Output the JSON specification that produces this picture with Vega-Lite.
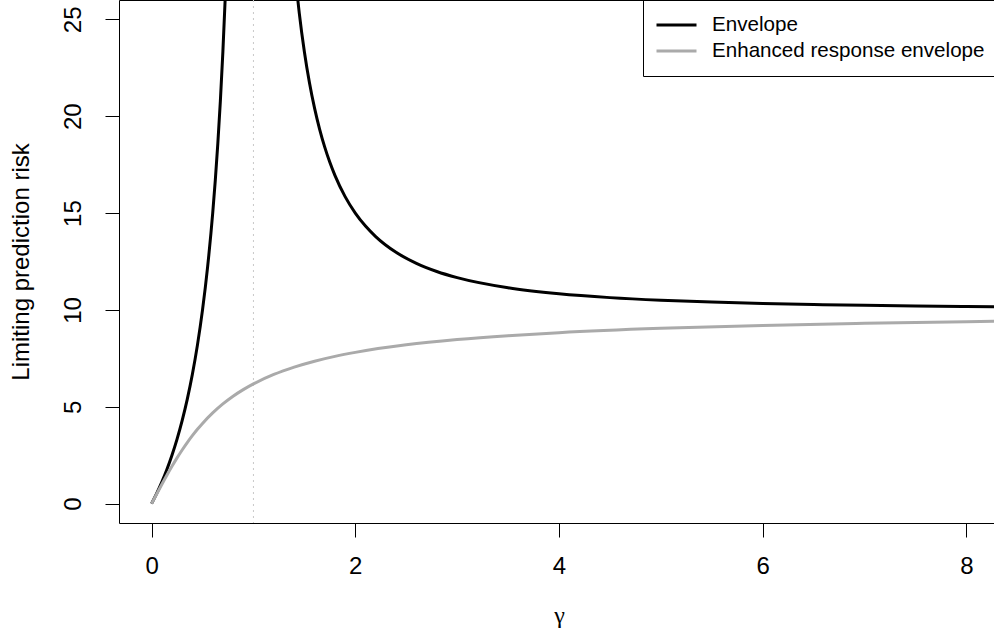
{
  "$schema": "https://vega.github.io/schema/vega-lite/v6.json",
  "width": 875,
  "height": 523,
  "autosize": {"type": "none"},
  "padding": {"left": 119, "top": 0, "right": 0, "bottom": 113},
  "background": "white",
  "config": {"view": {"stroke": null}, "font": "Liberation Sans"},
  "datasets": {
    "curves": [
      {"series": "Envelope", "branch": "L", "gamma": 0, "risk": 0},
      {"series": "Envelope", "branch": "L", "gamma": 0.05, "risk": 0.526},
      {"series": "Envelope", "branch": "L", "gamma": 0.1, "risk": 1.111},
      {"series": "Envelope", "branch": "L", "gamma": 0.15, "risk": 1.765},
      {"series": "Envelope", "branch": "L", "gamma": 0.2, "risk": 2.5},
      {"series": "Envelope", "branch": "L", "gamma": 0.25, "risk": 3.333},
      {"series": "Envelope", "branch": "L", "gamma": 0.3, "risk": 4.286},
      {"series": "Envelope", "branch": "L", "gamma": 0.35, "risk": 5.385},
      {"series": "Envelope", "branch": "L", "gamma": 0.4, "risk": 6.667},
      {"series": "Envelope", "branch": "L", "gamma": 0.45, "risk": 8.182},
      {"series": "Envelope", "branch": "L", "gamma": 0.5, "risk": 10.0},
      {"series": "Envelope", "branch": "L", "gamma": 0.55, "risk": 12.222},
      {"series": "Envelope", "branch": "L", "gamma": 0.6, "risk": 15.0},
      {"series": "Envelope", "branch": "L", "gamma": 0.625, "risk": 16.667},
      {"series": "Envelope", "branch": "L", "gamma": 0.65, "risk": 18.571},
      {"series": "Envelope", "branch": "L", "gamma": 0.675, "risk": 20.769},
      {"series": "Envelope", "branch": "L", "gamma": 0.7, "risk": 23.333},
      {"series": "Envelope", "branch": "L", "gamma": 0.725, "risk": 26.364},
      {"series": "Envelope", "branch": "L", "gamma": 0.75, "risk": 30.0},
      {"series": "Envelope", "branch": "R", "gamma": 1.4, "risk": 27.857},
      {"series": "Envelope", "branch": "R", "gamma": 1.45, "risk": 25.326},
      {"series": "Envelope", "branch": "R", "gamma": 1.5, "risk": 23.333},
      {"series": "Envelope", "branch": "R", "gamma": 1.55, "risk": 21.73},
      {"series": "Envelope", "branch": "R", "gamma": 1.6, "risk": 20.417},
      {"series": "Envelope", "branch": "R", "gamma": 1.65, "risk": 19.324},
      {"series": "Envelope", "branch": "R", "gamma": 1.7, "risk": 18.403},
      {"series": "Envelope", "branch": "R", "gamma": 1.75, "risk": 17.619},
      {"series": "Envelope", "branch": "R", "gamma": 1.8, "risk": 16.944},
      {"series": "Envelope", "branch": "R", "gamma": 1.9, "risk": 15.848},
      {"series": "Envelope", "branch": "R", "gamma": 2.0, "risk": 15.0},
      {"series": "Envelope", "branch": "R", "gamma": 2.1, "risk": 14.329},
      {"series": "Envelope", "branch": "R", "gamma": 2.2, "risk": 13.788},
      {"series": "Envelope", "branch": "R", "gamma": 2.4, "risk": 12.976},
      {"series": "Envelope", "branch": "R", "gamma": 2.6, "risk": 12.404},
      {"series": "Envelope", "branch": "R", "gamma": 2.8, "risk": 11.984},
      {"series": "Envelope", "branch": "R", "gamma": 3.0, "risk": 11.667},
      {"series": "Envelope", "branch": "R", "gamma": 3.5, "risk": 11.143},
      {"series": "Envelope", "branch": "R", "gamma": 4.0, "risk": 10.833},
      {"series": "Envelope", "branch": "R", "gamma": 4.5, "risk": 10.635},
      {"series": "Envelope", "branch": "R", "gamma": 5.0, "risk": 10.5},
      {"series": "Envelope", "branch": "R", "gamma": 5.5, "risk": 10.404},
      {"series": "Envelope", "branch": "R", "gamma": 6.0, "risk": 10.333},
      {"series": "Envelope", "branch": "R", "gamma": 6.5, "risk": 10.28},
      {"series": "Envelope", "branch": "R", "gamma": 7.0, "risk": 10.238},
      {"series": "Envelope", "branch": "R", "gamma": 7.5, "risk": 10.205},
      {"series": "Envelope", "branch": "R", "gamma": 8.0, "risk": 10.179},
      {"series": "Envelope", "branch": "R", "gamma": 8.5, "risk": 10.157},
      {"series": "Enhanced response envelope", "branch": "G", "gamma": 0, "risk": 0},
      {"series": "Enhanced response envelope", "branch": "G", "gamma": 0.05, "risk": 0.499},
      {"series": "Enhanced response envelope", "branch": "G", "gamma": 0.1, "risk": 0.99},
      {"series": "Enhanced response envelope", "branch": "G", "gamma": 0.15, "risk": 1.468},
      {"series": "Enhanced response envelope", "branch": "G", "gamma": 0.2, "risk": 1.926},
      {"series": "Enhanced response envelope", "branch": "G", "gamma": 0.25, "risk": 2.361},
      {"series": "Enhanced response envelope", "branch": "G", "gamma": 0.3, "risk": 2.77},
      {"series": "Enhanced response envelope", "branch": "G", "gamma": 0.35, "risk": 3.152},
      {"series": "Enhanced response envelope", "branch": "G", "gamma": 0.4, "risk": 3.508},
      {"series": "Enhanced response envelope", "branch": "G", "gamma": 0.45, "risk": 3.837},
      {"series": "Enhanced response envelope", "branch": "G", "gamma": 0.5, "risk": 4.142},
      {"series": "Enhanced response envelope", "branch": "G", "gamma": 0.6, "risk": 4.684},
      {"series": "Enhanced response envelope", "branch": "G", "gamma": 0.7, "risk": 5.146},
      {"series": "Enhanced response envelope", "branch": "G", "gamma": 0.8, "risk": 5.543},
      {"series": "Enhanced response envelope", "branch": "G", "gamma": 0.9, "risk": 5.884},
      {"series": "Enhanced response envelope", "branch": "G", "gamma": 1.0, "risk": 6.18},
      {"series": "Enhanced response envelope", "branch": "G", "gamma": 1.2, "risk": 6.667},
      {"series": "Enhanced response envelope", "branch": "G", "gamma": 1.4, "risk": 7.047},
      {"series": "Enhanced response envelope", "branch": "G", "gamma": 1.6, "risk": 7.352},
      {"series": "Enhanced response envelope", "branch": "G", "gamma": 1.8, "risk": 7.601},
      {"series": "Enhanced response envelope", "branch": "G", "gamma": 2.0, "risk": 7.808},
      {"series": "Enhanced response envelope", "branch": "G", "gamma": 2.5, "risk": 8.198},
      {"series": "Enhanced response envelope", "branch": "G", "gamma": 3.0, "risk": 8.471},
      {"series": "Enhanced response envelope", "branch": "G", "gamma": 3.5, "risk": 8.673},
      {"series": "Enhanced response envelope", "branch": "G", "gamma": 4.0, "risk": 8.828},
      {"series": "Enhanced response envelope", "branch": "G", "gamma": 5.0, "risk": 9.05},
      {"series": "Enhanced response envelope", "branch": "G", "gamma": 6.0, "risk": 9.201},
      {"series": "Enhanced response envelope", "branch": "G", "gamma": 7.0, "risk": 9.311},
      {"series": "Enhanced response envelope", "branch": "G", "gamma": 8.0, "risk": 9.395},
      {"series": "Enhanced response envelope", "branch": "G", "gamma": 8.5, "risk": 9.429}
    ],
    "vline": [{"gamma": 1}]
  },
  "layer": [
    {
      "data": {"name": "vline"},
      "mark": {"type": "rule", "color": "#c8c8c8", "strokeWidth": 1, "strokeDash": [2, 4]},
      "encoding": {
        "x": {
          "field": "gamma", "type": "quantitative",
          "scale": {"domain": [-0.32, 8.271], "nice": false, "zero": false},
          "axis": {"orient": "top", "domain": true, "domainColor": "black", "domainWidth": 1, "ticks": false, "labels": false, "grid": false, "title": null}
        }
      }
    },
    {
      "data": {"name": "curves"},
      "transform": [{"filter": "datum.series == 'Envelope'"}],
      "mark": {"type": "line", "clip": true, "strokeWidth": 3, "interpolate": "monotone"},
      "encoding": {
        "x": {
          "field": "gamma", "type": "quantitative",
          "scale": {"domain": [-0.32, 8.271], "nice": false, "zero": false},
          "axis": {
            "orient": "bottom", "values": [0, 2, 4, 6, 8], "grid": false,
            "domainColor": "black", "domainWidth": 1, "tickColor": "black", "tickWidth": 1, "tickSize": 14,
            "labelFont": "Liberation Sans", "labelFontSize": 24, "labelColor": "black", "labelPadding": 36, "labelBaseline": "alphabetic",
            "title": "γ", "titleFont": "Liberation Serif", "titleFontSize": 24, "titleFontWeight": "normal", "titleColor": "black",
            "titleX": 440, "titleY": 99, "titleBaseline": "alphabetic", "titleAlign": "center"
          }
        },
        "y": {
          "field": "risk", "type": "quantitative",
          "scale": {"domain": [-1, 26], "nice": false, "zero": false},
          "axis": {
            "orient": "left", "values": [0, 5, 10, 15, 20, 25], "grid": false,
            "domainColor": "black", "domainWidth": 1, "tickColor": "black", "tickWidth": 1, "tickSize": 14,
            "labelFont": "Liberation Sans", "labelFontSize": 24, "labelColor": "black", "labelAngle": 270, "labelAlign": "center", "labelBaseline": "alphabetic", "labelPadding": 25,
            "title": "Limiting prediction risk", "titleFont": "Liberation Sans", "titleFontSize": 24, "titleFontWeight": "normal", "titleColor": "black",
            "titleAngle": 270, "titleX": -91, "titleY": 261.5, "titleAlign": "center", "titleBaseline": "alphabetic"
          }
        },
        "color": {
          "field": "series", "type": "nominal",
          "scale": {"domain": ["Envelope", "Enhanced response envelope"], "range": ["black", "#aaaaaa"]},
          "legend": {
            "orient": "none", "legendX": 524, "legendY": 0, "title": null,
            "strokeColor": "black", "padding": 12,
            "symbolType": "stroke", "symbolSize": 1600, "symbolStrokeWidth": 3,
            "clipHeight": 26,
            "labelFont": "Liberation Sans", "labelFontSize": 20.6, "labelColor": "black", "labelOffset": 14, "labelLimit": 500,
            "rowPadding": 0
          }
        },
        "detail": {"field": "branch"}
      }
    },
    {
      "data": {"name": "curves"},
      "transform": [{"filter": "datum.series == 'Enhanced response envelope'"}],
      "mark": {"type": "line", "clip": true, "strokeWidth": 3, "interpolate": "monotone"},
      "encoding": {
        "x": {"field": "gamma", "type": "quantitative", "scale": {"domain": [-0.32, 8.271], "nice": false, "zero": false}, "axis": null},
        "y": {
          "field": "risk", "type": "quantitative",
          "scale": {"domain": [-1, 26], "nice": false, "zero": false},
          "axis": {
            "orient": "left", "values": [0, 5, 10, 15, 20, 25], "grid": false,
            "domainColor": "black", "domainWidth": 1, "tickColor": "black", "tickWidth": 1, "tickSize": 14,
            "labelFont": "Liberation Sans", "labelFontSize": 24, "labelColor": "black", "labelAngle": 270, "labelAlign": "center", "labelBaseline": "alphabetic", "labelPadding": 25,
            "title": "Limiting prediction risk", "titleFont": "Liberation Sans", "titleFontSize": 24, "titleFontWeight": "normal", "titleColor": "black",
            "titleAngle": 270, "titleX": -91, "titleY": 261.5, "titleAlign": "center", "titleBaseline": "alphabetic"
          }
        },
        "color": {"field": "series", "type": "nominal", "scale": {"domain": ["Envelope", "Enhanced response envelope"], "range": ["black", "#aaaaaa"]}}
      }
    }
  ],
  "resolve": {"axis": {"x": "independent"}}
}
